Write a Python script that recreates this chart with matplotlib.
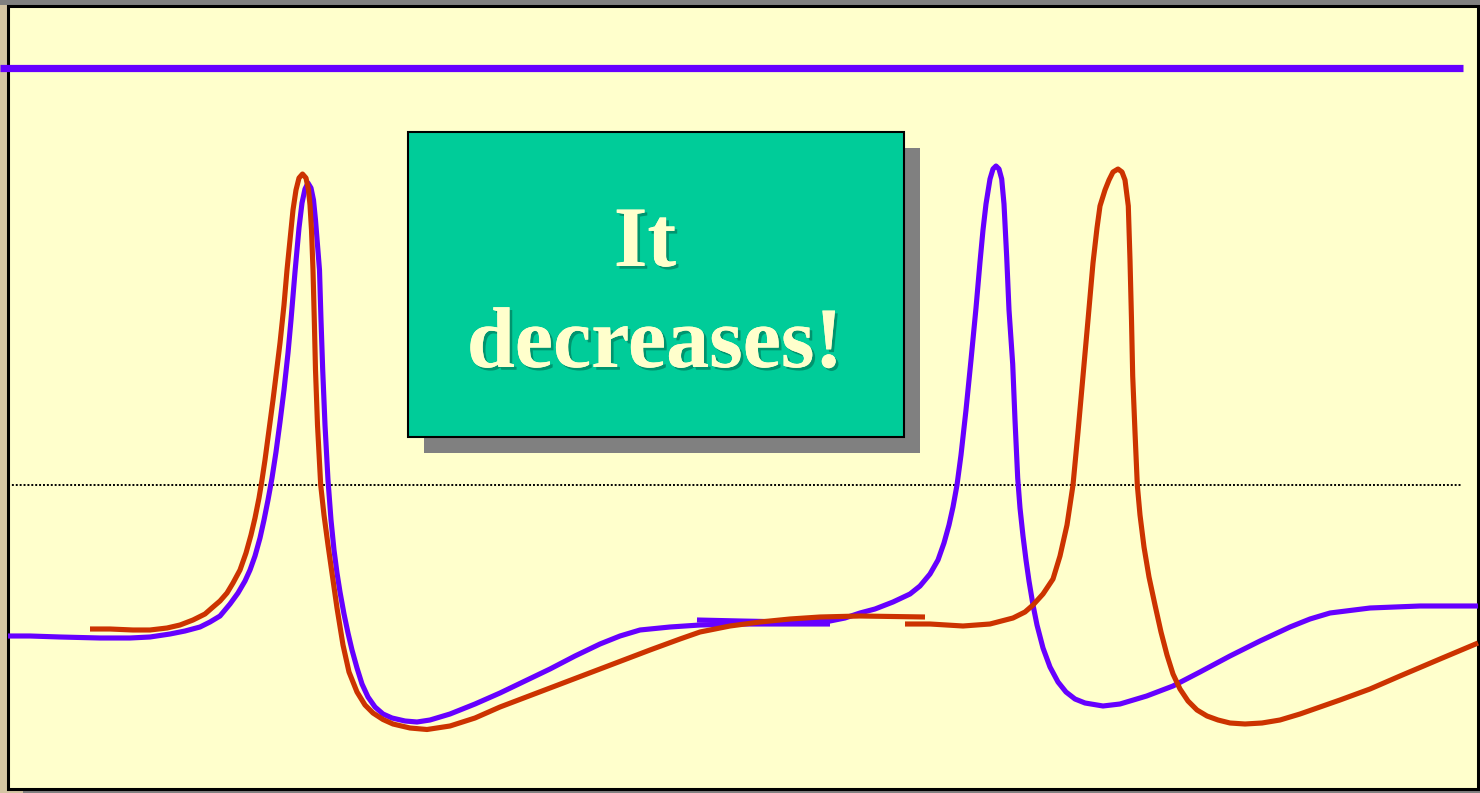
import matplotlib
matplotlib.use("Agg")
import matplotlib.pyplot as plt
from matplotlib.patches import Rectangle
import matplotlib.patheffects as pe

# ---- data (time units ~ screen x, voltage units ~ screen y, inverted axis) ----
purple_a_t = [8, 30, 60, 100, 130, 150, 170, 185, 200, 210, 220, 230, 238, 245, 250, 255, 260, 264,
              268, 272, 276, 280, 284, 288, 291, 295, 299, 302, 305, 308, 311, 313.5, 315.5,
              317.5, 319.5, 321, 322.7, 325, 328, 331, 334, 337, 340, 344, 348, 352, 357, 362,
              368, 375, 383, 392, 405, 417, 430, 450, 475, 500, 525, 550, 575, 600, 620, 640,
              670, 700, 740, 780, 830]
purple_a_v = [636, 636, 637, 638, 638, 637, 634, 631, 627, 622, 616, 604, 593, 581, 570, 556, 538, 520,
              500, 478, 452, 422, 390, 353, 320, 272, 228, 203, 189, 183, 188, 200, 220,
              245, 270, 320, 370, 425, 480, 520, 550, 573, 592, 614, 633, 650, 668, 684,
              697, 707, 714, 718, 721, 722, 720, 714, 704, 693, 681, 669, 656, 644, 636, 630,
              627, 625, 624, 624, 624]
purple_b_t = [697, 740, 790, 830, 845, 860, 875, 893, 910, 920, 930, 938, 944, 949, 953, 957, 961,
              966, 971, 976, 980, 983, 986, 990, 993, 996, 999, 1001.7, 1004, 1006.7, 1009, 1012.7,
              1015, 1017.7, 1020, 1023, 1026, 1029, 1033, 1037, 1043, 1050, 1058, 1066, 1075,
              1085, 1103, 1120, 1146.7, 1173, 1200, 1230, 1260, 1290, 1310, 1330, 1370, 1420, 1478]
purple_b_v = [620, 621, 622, 621, 618, 613, 609, 602, 594, 586, 574, 560, 543, 525, 507, 485, 455,
              410, 360, 308, 262, 230, 204, 179, 169, 166, 169, 179, 204, 257, 310, 364,
              420, 478, 508, 536, 560, 581, 605, 625, 648, 667, 682, 692, 699,
              703, 706, 704, 696, 686, 672, 656, 641, 627, 619, 613, 608, 606, 606]

orange_a_t = [90, 110, 133, 150, 167, 180, 193, 205, 213, 220, 227, 233, 240, 246, 251, 255, 259,
              262, 265, 269, 273, 276.7, 280, 284, 287, 290, 293, 296, 299, 302.5, 306, 308.5,
              310, 311.5, 313, 314.3, 315.5, 317.5, 320.7, 324, 328, 332, 337, 343, 349, 357, 365,
              373, 383, 393, 410, 427, 450, 475, 500, 550, 600, 650, 680, 700, 730, 760, 790,
              820, 860, 925]
orange_a_v = [629, 629, 630, 630, 628, 625, 620, 614, 607, 601, 593, 583, 570, 553, 535, 518, 498,
              480, 460, 430, 400, 370, 343, 305, 270, 240, 210, 190, 178, 174, 178, 190,
              205, 230, 270, 320, 370, 425, 485, 515, 545, 573, 608, 645, 672, 692, 705,
              713, 719.5, 724, 728, 729.5, 726, 718, 707, 688, 669, 650, 639, 632, 626, 622, 619,
              617, 616, 617]
orange_b_t = [905, 930, 963, 990, 1013, 1025, 1033, 1043, 1053, 1060, 1067, 1073, 1078, 1083, 1088,
              1093, 1097, 1100, 1105, 1109, 1113, 1118, 1122, 1125, 1128.3, 1130, 1131.5, 1132.7,
              1135, 1137.3, 1140, 1144, 1149, 1155, 1161, 1167, 1173, 1180, 1188, 1197, 1207,
              1218, 1230, 1245, 1262, 1280, 1300, 1340, 1370, 1400, 1440, 1478]
orange_b_v = [624, 624, 626, 624, 618, 612, 605, 594, 579, 556, 525, 485, 432, 376, 320,
              263, 228, 206, 190, 180, 172, 169, 172, 180, 206, 260, 320, 376,
              432, 485, 515, 547, 577, 605, 632, 655, 674, 689, 701, 710, 716,
              720, 723, 724, 723, 720, 714, 700, 689, 676, 659, 643]

threshold_v = 485
top_level_v = 68
label_lines = ["It", "decreases!"]

PURPLE = "#6600FF"
ORANGE = "#CC3300"

fig = plt.figure(figsize=(14.8, 7.93), dpi=100)
fig.patch.set_facecolor("#D4C5A3")
ax = fig.add_axes([0, 0, 1, 1])
ax.set_xlim(0, 1480)
ax.set_ylim(793, 0)
ax.axis("off")

# slide frame
ax.add_patch(Rectangle((0, 0), 1480, 4.5, facecolor="#808080", edgecolor="none", zorder=0))
ax.add_patch(Rectangle((23, 20), 1457, 773, facecolor="#808080", edgecolor="none", zorder=0))
ax.add_patch(Rectangle((8, 5.5), 1470, 783, facecolor="#FFFFCC", edgecolor="black",
                       linewidth=2.2, zorder=1))

# reference lines
ax.plot([0, 1463], [top_level_v, top_level_v], color=PURPLE, lw=5.2, solid_capstyle="butt", zorder=3)
ax.plot([8, 1462], [threshold_v, threshold_v], color="black", lw=1.4, ls=(0, (1, 1)), zorder=3)

# traces
for t, v, c in [(purple_a_t, purple_a_v, PURPLE), (purple_b_t, purple_b_v, PURPLE),
                (orange_a_t, orange_a_v, ORANGE), (orange_b_t, orange_b_v, ORANGE)]:
    ax.plot(t, v, color=c, lw=3.7, solid_capstyle="butt", solid_joinstyle="round", zorder=4)

# callout box
ax.add_patch(Rectangle((424, 148), 496, 305, facecolor="#808080", edgecolor="none", zorder=5))
ax.add_patch(Rectangle((408, 132), 496, 305, facecolor="#00CC99", edgecolor="black",
                       linewidth=1.5, zorder=6))
shadow = [pe.withSimplePatchShadow(offset=(2, -2), shadow_rgbFace="#00664C", alpha=0.55), pe.Normal()]
ax.text(645, 266, label_lines[0], ha="center", va="baseline", fontsize=62, fontweight="bold",
        family="Liberation Serif", color="#FFFFCC", zorder=7, path_effects=shadow)
ax.text(655, 367, label_lines[1], ha="center", va="baseline", fontsize=62, fontweight="bold",
        family="Liberation Serif", color="#FFFFCC", zorder=7, path_effects=shadow)

fig.savefig("out.png", dpi=100, facecolor=fig.get_facecolor())
